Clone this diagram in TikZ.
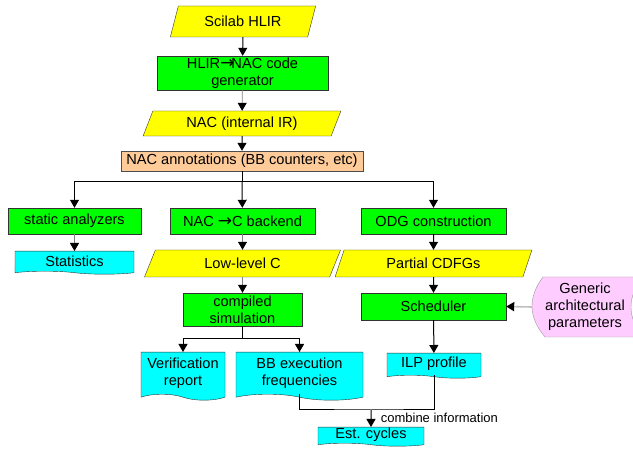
\documentclass[tikz,border=0pt]{standalone}
\usepackage{fontspec}
\setmainfont{Liberation Sans}
\newfontfamily\arrowfont{DejaVu Sans}
\usepackage{tikz}
\usetikzlibrary{calc}
\usetikzlibrary{arrows.meta}
\usetikzlibrary{shapes}
\usetikzlibrary{shapes.geometric}
\usetikzlibrary{shapes.symbols}
\definecolor{procgreen}{HTML}{00FF00}
\definecolor{datayellow}{HTML}{FFFF00}
\definecolor{doccyan}{HTML}{00FFFF}
\definecolor{annotpeach}{HTML}{FFCC99}
\definecolor{parampink}{HTML}{FFCCFF}
\newcommand{\toarrow}{{\arrowfont\fontsize{17}{17}\selectfont →}}
\tikzset{>={Triangle[width=9pt,length=8pt]}}
\tikzstyle{proc} = [rectangle, draw=black!80, fill=procgreen, inner sep=0, align=center]
\tikzstyle{data} = [trapezium, trapezium left angle=66, trapezium right angle=114, trapezium stretches=true, draw=black!80, fill=datayellow, inner sep=0]
\tikzstyle{docu} = [tape, tape bend top=none, tape bend bottom=out and in, draw=black!80, fill=doccyan, inner sep=0, align=center]
\tikzstyle{flow} = [->, draw=black, line width=1pt]
\tikzstyle{grayflow} = [-{Triangle[width=9pt,length=8pt,color=black]}, draw=gray, line width=0.8pt]

\begin{document}
\begin{tikzpicture}[x=1pt, y=-1pt, font=\fontsize{14.6}{17}\selectfont]
\useasboundingbox (0,0) rectangle (633,449);
% top chain
\node [data, minimum width=146pt, minimum height=31pt] (hlir) at (243,21.5) {Scilab HLIR};
\node [proc, minimum width=171pt, minimum height=34pt] (hlirgen) at (242.5,73) {HLIR\toarrow\kern-3ptNAC code\\generator};
\node [data, minimum width=198pt, minimum height=25pt] (nac) at (242,123.5) {NAC (internal IR)};
\node [rectangle, draw=black!70, fill=annotpeach, minimum width=242pt, minimum height=20pt, inner sep=0] (annot) at (242,161) {NAC annotations (BB counters, etc)};
% three branches
\node [proc, minimum width=133pt, minimum height=26pt] (static) at (74.5,221) {static analyzers};
\node [proc, minimum width=145pt, minimum height=26pt] (nacc) at (242.5,221) {NAC \toarrow C backend};
\node [proc, minimum width=145pt, minimum height=26pt] (odg) at (433.5,221) {ODG construction};
\node [docu, minimum width=119pt, minimum height=23pt, tape bend height=3pt, anchor=north] (stats) at (74.5,251) {Statistics};
\node [data, minimum width=197pt, minimum height=27pt] (lowc) at (242.5,263.5) {Low-level C};
\node [data, minimum width=197pt, minimum height=27pt] (cdfg) at (433.5,263.5) {Partial CDFGs};
\node [proc, minimum width=119pt, minimum height=33pt] (compiled) at (242.5,309.5) {compiled\\simulation};
\node [proc, minimum width=145pt, minimum height=27pt] (sched) at (433.5,306.5) {Scheduler};
\draw [draw=black!40, fill=parampink] (543,277) -- (643,277) .. controls (627,297) and (627,317) .. (643,337) -- (545,337) .. controls (528,317) and (528,297) .. (543,277) -- cycle;
\node [minimum width=106pt, minimum height=60pt, inner sep=0, align=center] (generic) at (585,307) {Generic\\architectural\\parameters};
% outputs
\node [docu, minimum width=84pt, minimum height=48pt, tape bend height=6pt, anchor=north] (verif) at (183,352) {Verification\\report};
\node [docu, minimum width=127pt, minimum height=48pt, tape bend height=6pt, anchor=north] (bb) at (299.5,352) {BB execution\\frequencies};
\node [docu, minimum width=94pt, minimum height=25pt, tape bend height=3pt, anchor=north] (ilp) at (434,353) {ILP profile};
\node [docu, minimum width=106pt, minimum height=19pt, tape bend height=3pt, anchor=north] (est) at (371,427) {Est. cycles};
% connectors
\coordinate (fork) at (242,182);
\coordinate (simfork) at (242.5,339);
\coordinate (join) at (371,410);
\draw [flow] (hlir) -- (hlirgen);
\draw [grayflow] (hlirgen) -- (nac);
\draw [flow] (nac) -- (annot);
\draw [line width=1pt] (annot) -- (fork);
\draw [flow] (fork) -- (nacc);
\draw [flow] (fork) -| (static);
\draw [flow] (fork) -| (odg);
\draw [grayflow] (static) -- (stats);
\draw [grayflow] (nacc) -- (lowc);
\draw [flow] (odg) -- (cdfg);
\draw [grayflow] (lowc) -- (compiled);
\draw [flow] (cdfg) -- (sched);
\draw [-{Triangle[width=9pt,length=8pt,color=black]}, draw=black!25, line width=1.6pt] (generic.west) -- (sched.east);
\draw [flow] (sched) -- (ilp);
\draw [line width=1pt] (compiled) -- (simfork);
\draw [flow] (simfork) -| (verif);
\draw [flow] (simfork) -| (bb);
\draw [line width=1pt] (bb.south) |- (join) -| (ilp.south);
\draw [flow] (join) -- (est) node [pos=0.45, right=6pt, font=\fontsize{13}{15}\selectfont] {combine information};
\end{tikzpicture}
\end{document}
